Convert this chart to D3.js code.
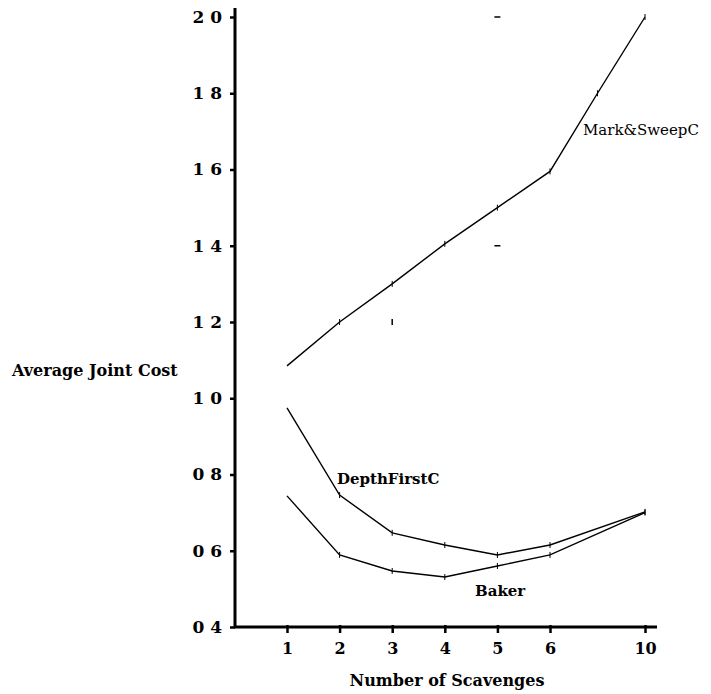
<!DOCTYPE html>
<html>
<head>
<meta charset="utf-8">
<script src="https://cdn.jsdelivr.net/npm/d3@7"></script>
<style>
  body { margin: 0; background: #fff; }
  text { font-family: "DejaVu Serif", "Liberation Serif", serif; fill: #000; }
</style>
</head>
<body>
<div id="chart"></div>
<script>
//Data
var xTicks = [1, 2, 3, 4, 5, 6, 10];
var yTicks = [0.4, 0.6, 0.8, 1.0, 1.2, 1.4, 1.6, 1.8, 2.0];
var yTickLabels = ["0 4", "0 6", "0 8", "1 0", "1 2", "1 4", "1 6", "1 8", "2 0"];

var markSweepX = [1, 2, 3, 4, 5, 6, 8, 10];
var markSweepY = [1.085, 1.2, 1.3, 1.405, 1.5, 1.595, 1.8, 2.0];

var depthFirstX = [1, 2, 3, 4, 5, 6, 10];
var depthFirstY = [0.975, 0.746, 0.647, 0.615, 0.589, 0.615, 0.702];

var bakerX = [1, 2, 3, 4, 5, 6, 10];
var bakerY = [0.744, 0.589, 0.547, 0.531, 0.56, 0.589, 0.70];

//stray marks left on the plot
var strayX = [5, 5, 3];
var strayY = [2.0, 1.4, 1.2];

//Width and height
var w = 711;
var h = 694;

//Scales
var xScale = d3.scaleLinear()
  .domain([1, 6, 10])
  .range([287, 550, 645]);

var yScale = d3.scaleLinear()
  .domain([0.4, 2.0])
  .range([627, 17]);

var svg = d3.select("#chart")
  .append("svg")
  .attr("width", w)
  .attr("height", h);

//Y axis
var yAxis = d3.axisLeft(yScale)
  .tickValues(yTicks)
  .tickFormat(function(d, i) { return yTickLabels[i]; })
  .tickSize(5)
  .tickSizeOuter(0)
  .tickPadding(8);

var gy = svg.append("g")
  .attr("transform", "translate(235,0)")
  .call(yAxis);
gy.select(".domain").remove();
gy.selectAll(".tick line").attr("stroke", "#000").attr("stroke-width", 2.5);
gy.selectAll(".tick text")
  .attr("font-family", "DejaVu Serif")
  .attr("font-weight", "bold")
  .attr("font-size", 17)
  .attr("fill", "#000");
gy.append("line")
  .attr("x1", 0).attr("x2", 0)
  .attr("y1", 8).attr("y2", yScale(0.4) + 1)
  .attr("stroke", "#000")
  .attr("stroke-width", 3);

//X axis
var xAxis = d3.axisBottom(xScale)
  .tickValues(xTicks)
  .tickFormat(d3.format("d"))
  .tickSize(6)
  .tickSizeOuter(0)
  .tickPadding(10);

var gx = svg.append("g")
  .attr("transform", "translate(0," + yScale(0.4) + ")")
  .call(xAxis);
gx.select(".domain").remove();
gx.selectAll(".tick line").attr("stroke", "#000").attr("stroke-width", 2.5).attr("y1", -2);
gx.selectAll(".tick text")
  .attr("font-family", "DejaVu Serif")
  .attr("font-weight", "bold")
  .attr("font-size", 16)
  .attr("fill", "#000");
gx.append("line")
  .attr("x1", 234).attr("x2", 657)
  .attr("y1", 0).attr("y2", 0)
  .attr("stroke", "#000")
  .attr("stroke-width", 3);

//Axis titles
svg.append("text")
  .attr("x", 12)
  .attr("y", 376)
  .attr("font-size", 16)
  .attr("font-weight", "bold")
  .text("Average Joint Cost");

svg.append("text")
  .attr("x", 447)
  .attr("y", 686)
  .attr("text-anchor", "middle")
  .attr("font-size", 16)
  .attr("font-weight", "bold")
  .text("Number of Scavenges");

//Lines
var line = d3.line()
  .x(function(d) { return xScale(d[0]); })
  .y(function(d) { return yScale(d[1]); });

var series = [
  { key: "Mark&SweepC", pts: d3.zip(markSweepX, markSweepY) },
  { key: "DepthFirstC", pts: d3.zip(depthFirstX, depthFirstY) },
  { key: "Baker", pts: d3.zip(bakerX, bakerY) }
];

svg.selectAll("path.series")
  .data(series)
  .enter()
  .append("path")
  .attr("class", "series")
  .attr("d", function(d) { return line(d.pts); })
  .attr("fill", "none")
  .attr("stroke", "#000")
  .attr("stroke-width", 1.4);

//little point ticks
series.forEach(function(s) {
  svg.selectAll(null)
    .data(s.pts.slice(1))
    .enter()
    .append("line")
    .attr("x1", function(d) { return xScale(d[0]); })
    .attr("x2", function(d) { return xScale(d[0]); })
    .attr("y1", function(d) { return yScale(d[1]) - 3; })
    .attr("y2", function(d) { return yScale(d[1]) + 3; })
    .attr("stroke", "#000")
    .attr("stroke-width", 1);
});

svg.selectAll("line.stray")
  .data(d3.zip(strayX, strayY))
  .enter()
  .append("line")
  .attr("class", "stray")
  .attr("x1", function(d, i) { return i == 2 ? xScale(d[0]) : xScale(d[0]) - 3; })
  .attr("x2", function(d, i) { return i == 2 ? xScale(d[0]) : xScale(d[0]) + 3; })
  .attr("y1", function(d, i) { return i == 2 ? yScale(d[1]) - 3 : yScale(d[1]); })
  .attr("y2", function(d, i) { return i == 2 ? yScale(d[1]) + 3 : yScale(d[1]); })
  .attr("stroke", "#000")
  .attr("stroke-width", 1.5);

//Series labels
svg.append("text")
  .attr("x", 583)
  .attr("y", 135)
  .attr("font-size", 15)
  .text("Mark&SweepC");

svg.append("text")
  .attr("x", 337)
  .attr("y", 484)
  .attr("font-size", 15)
  .attr("font-weight", "bold")
  .text("DepthFirstC");

svg.append("text")
  .attr("x", 475)
  .attr("y", 596)
  .attr("font-size", 15)
  .attr("font-weight", "bold")
  .text("Baker");
</script>
</body>
</html>
